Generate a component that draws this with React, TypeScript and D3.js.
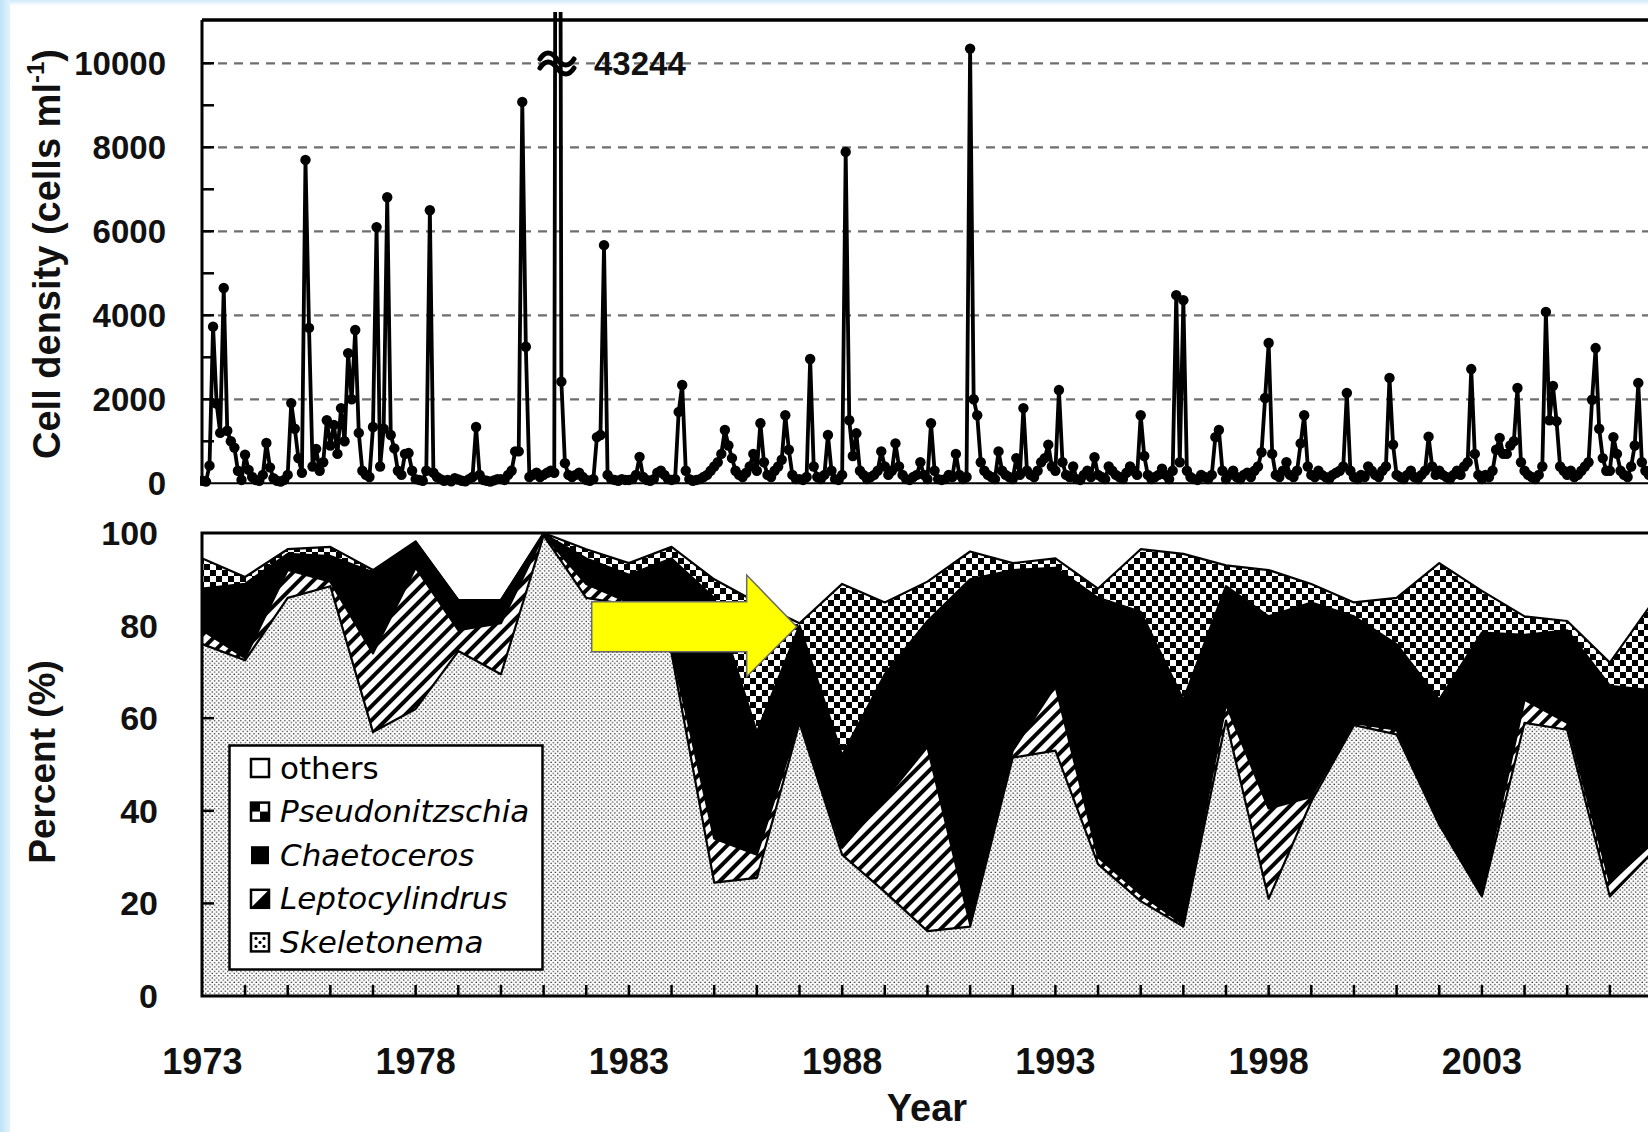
import * as d3 from "d3";
import React from "react";

// ---- data ----
// monthly cell density (cells/ml), Jan 1973 .. Dec 2006, one row per year
const cellDensity = [
	60, 40, 420, 3730, 1900, 1200, 4650, 1250, 1000, 850, 300, 80, // 1973
	680, 320, 150, 80, 60, 200, 960, 380, 120, 60, 40, 80, // 1974
	200, 1910, 1300, 600, 250, 7700, 3700, 400, 820, 300, 500, 1500, // 1975
	900, 1390, 700, 1790, 1000, 3100, 2000, 3650, 1200, 300, 200, 150, // 1976
	1340, 6100, 400, 1300, 6810, 1150, 830, 300, 200, 700, 720, 300, // 1977
	100, 80, 60, 300, 6500, 250, 150, 100, 60, 80, 50, 120, // 1978
	90, 60, 50, 100, 150, 1340, 200, 80, 60, 40, 70, 100, // 1979
	100, 80, 200, 300, 760, 760, 9080, 3250, 150, 200, 250, 150, // 1980
	200, 250, 300, 250, 43244, 2420, 480, 200, 150, 200, 250, 150, // 1981
	80, 60, 100, 1100, 1150, 5670, 200, 100, 80, 60, 100, 80, // 1982
	80, 100, 200, 630, 150, 80, 60, 100, 250, 300, 200, 100, // 1983
	80, 100, 1700, 2340, 300, 100, 60, 80, 100, 150, 200, 300, // 1984
	400, 500, 700, 1270, 900, 600, 300, 200, 150, 250, 400, 700, // 1985
	300, 1430, 500, 200, 150, 300, 400, 560, 1620, 800, 200, 100, // 1986
	100, 80, 150, 2960, 400, 150, 100, 200, 1150, 300, 100, 80, // 1987
	200, 7890, 1500, 650, 1190, 300, 200, 100, 150, 200, 300, 760, // 1988
	400, 200, 300, 950, 400, 200, 100, 80, 150, 200, 500, 200, // 1989
	100, 1430, 300, 100, 80, 100, 200, 150, 700, 200, 100, 150, // 1990
	10350, 2000, 1620, 500, 300, 200, 150, 100, 760, 300, 200, 150, // 1991
	100, 600, 200, 1790, 300, 200, 150, 300, 500, 600, 920, 400, // 1992
	300, 2220, 500, 200, 150, 400, 100, 80, 200, 300, 150, 620, // 1993
	200, 150, 100, 400, 300, 200, 150, 100, 250, 400, 300, 200, // 1994
	1620, 650, 200, 100, 150, 200, 350, 200, 100, 300, 4480, 500, // 1995
	4360, 300, 150, 100, 80, 200, 150, 100, 200, 1100, 1270, 300, // 1996
	100, 200, 300, 150, 100, 200, 250, 150, 300, 400, 740, 2030, // 1997
	3340, 700, 200, 150, 300, 500, 200, 150, 300, 950, 1620, 400, // 1998
	200, 150, 300, 200, 150, 100, 200, 250, 300, 400, 2150, 300, // 1999
	150, 100, 200, 150, 400, 300, 200, 150, 300, 400, 2510, 920, // 2000
	200, 150, 100, 200, 300, 150, 100, 200, 300, 1110, 400, 200, // 2001
	300, 200, 150, 100, 200, 300, 200, 400, 500, 2720, 700, 200, // 2002
	100, 200, 150, 300, 800, 1080, 700, 700, 900, 1000, 2270, 500, // 2003
	300, 200, 150, 100, 200, 400, 4080, 1500, 2320, 1480, 400, 300, // 2004
	200, 300, 150, 200, 300, 400, 500, 1990, 3220, 1300, 600, 300, // 2005
	300, 1100, 700, 300, 200, 150, 400, 900, 2390, 500, 300, 200, // 2006
];
const firstYear = 1973;

// annual composition (%)
const years = [
	1973, 1974, 1975, 1976, 1977, 1978, 1979, 1980, 1981, 1982, 1983, 1984, 1985, 1986, 1987, 1988, 1989,
	1990, 1991, 1992, 1993, 1994, 1995, 1996, 1997, 1998, 1999, 2000, 2001, 2002, 2003, 2004, 2005, 2006, 2007,
];
const skeletonema = [
	76, 72.5, 86, 88.5, 57, 62, 74.5, 69.5, 99.5, 86, 84.5, 74, 24.5, 25.5, 59, 30.5, 22.5, 14, 15, 51.5, 53,
	28.5, 20.5, 15, 59.5, 21, 42, 58.5, 56.5, 37, 21.5, 59, 57.5, 21.5, 31,
];
const leptocylindrus = [
	3, 0.5, 6, 1, 17, 30.5, 4.5, 11, 0.1, 3, 0.5, 1, 9.5, 5, 0.5, 1.5, 20, 39.8, 0.5, 1.5, 14, 1.5, 1.5, 0.5,
	3.5, 19.5, 1, 0.5, 1, 0.5, 0.5, 5, 1.5, 3, 2,
];
const chaetoceros = [
	9, 16, 3.5, 5.5, 17.5, 5.5, 6.5, 5, 0.2, 5.5, 6, 19.5, 52, 26.5, 20.5, 20, 27, 27.2, 74.5, 39, 25.5, 56,
	61, 48.5, 25.5, 41.5, 42, 23, 18.5, 26.5, 56.5, 14, 20, 42.5, 33,
];
const pseudonitzschia = [
	6.5, 1.5, 1, 2, 0.5, 0.2, 0, 0, 0.2, 2, 2.5, 2.5, 4, 28, 0.5, 37, 15.5, 8.5, 6, 1.5, 2, 2, 13.5, 31.5,
	4.5, 10, 4, 3, 10, 29.5, 9, 4, 2, 5, 19,
];

const densityTicks = [0, 2000, 4000, 6000, 8000, 10000];
const percentTicks = [0, 20, 40, 60, 80, 100];
const yearLabels = [1973, 1978, 1983, 1988, 1993, 1998, 2003];

const legendItems = [
	{ key: "others", label: "others", italic: false },
	{ key: "pseudonitzschia", label: "Pseudonitzschia", italic: true },
	{ key: "chaetoceros", label: "Chaetoceros", italic: true },
	{ key: "leptocylindrus", label: "Leptocylindrus", italic: true },
	{ key: "skeletonema", label: "Skeletonema", italic: true },
];

const W = 1648;
const H = 1132;
const BOLD = "'Liberation Sans', Arial, sans-serif";
const LEG = "'DejaVu Sans', Verdana, sans-serif";

const fills: Record<string, string> = {
	skeletonema: "url(#dots)",
	leptocylindrus: "url(#hatch)",
	chaetoceros: "#000",
	pseudonitzschia: "url(#checker)",
};

const App = (): JSX.Element => {
	// shared time axis
	const x = d3.scaleLinear().domain([1973, 2008]).range([202.4, 202.4 + 35 * 42.65]);
	const yD = d3.scaleLinear().domain([0, 10000]).range([483.3, 63.3]);
	const yP = d3.scaleLinear().domain([0, 100]).range([996, 533]);

	const monthly = cellDensity.map((v, i) => ({ t: firstYear + i / 12, v }));
	const densLine = d3
		.line<{ t: number; v: number }>()
		.x((d) => x(d.t))
		.y((d) => yD(d.v));

	const rows = years.map((yr, i) => ({
		year: yr,
		skeletonema: skeletonema[i],
		leptocylindrus: leptocylindrus[i],
		chaetoceros: chaetoceros[i],
		pseudonitzschia: pseudonitzschia[i],
	}));
	const keys = ["skeletonema", "leptocylindrus", "chaetoceros", "pseudonitzschia"];
	const stacked = d3.stack<any>().keys(keys)(rows);
	const area = d3
		.area<any>()
		.x((d) => x(d.data.year))
		.y0((d) => yP(d[0]))
		.y1((d) => yP(d[1]));
	const topLine = d3
		.line<any>()
		.x((d) => x(d.data.year))
		.y((d) => yP(d[1]));

	const minorD = d3.range(1000, 11000, 1000);
	const yearTicks = years.slice(1);

	return (
		<div style={{ position: "fixed", left: 0, top: 0, width: W, height: H, overflow: "hidden", background: "#fff" }}>
			<svg width={W} height={H} style={{ display: "block" }}>
				<defs>
					<linearGradient id="edgeL" x1="0" x2="1" y1="0" y2="0">
						<stop offset="0" stopColor="#bfe2f8" />
						<stop offset="1" stopColor="#e4f3fc" />
					</linearGradient>
					<linearGradient id="edgeT" x1="0" x2="0" y1="0" y2="1">
						<stop offset="0" stopColor="#cfe9fa" />
						<stop offset="1" stopColor="#ffffff" />
					</linearGradient>
					<pattern id="dots" width="4.4" height="4.4" patternUnits="userSpaceOnUse">
						<rect width="4.4" height="4.4" fill="#fff" />
						<circle cx="1.1" cy="1.1" r="0.75" fill="#222" />
						<circle cx="3.3" cy="3.3" r="0.75" fill="#222" />
					</pattern>
					<pattern id="hatch" width="10" height="10" patternUnits="userSpaceOnUse" patternTransform="rotate(45)">
						<rect width="10" height="10" fill="#fff" />
						<rect width="4" height="10" fill="#000" />
					</pattern>
					<pattern id="checker" width="12" height="12" patternUnits="userSpaceOnUse">
						<rect width="12" height="12" fill="#fff" />
						<rect width="6" height="6" fill="#000" />
						<rect x="6" y="6" width="6" height="6" fill="#000" />
					</pattern>
					<clipPath id="clipTop">
						<rect x={200} y={12} width={W} height={480} />
					</clipPath>
					<clipPath id="clipBottom">
						<rect x={202} y={533} width={W} height={463} />
					</clipPath>
				</defs>

				{/* light blue frame */}
				<rect x={0} y={0} width={W} height={6} fill="url(#edgeT)" />
				<rect x={0} y={0} width={10} height={H} fill="url(#edgeL)" />

				{/* ---------- top panel: cell density ---------- */}
				{densityTicks.slice(1).map((t) => (
					<line
						key={t}
						x1={202}
						x2={W}
						y1={yD(t)}
						y2={yD(t)}
						stroke="#6e6e6e"
						strokeWidth={2.2}
						strokeDasharray="9 7"
					/>
				))}
				{minorD.map((t) => (
					<line key={t} x1={202} x2={214} y1={yD(t)} y2={yD(t)} stroke="#000" strokeWidth={2.5} />
				))}
				<g clipPath="url(#clipTop)">
					<path d={densLine(monthly) ?? ""} fill="none" stroke="#000" strokeWidth={3.8} strokeLinejoin="round" />
					{monthly.map((d, i) => (
						<circle key={i} cx={x(d.t)} cy={yD(d.v)} r={5.2} fill="#000" />
					))}
				</g>
				<line x1={202} x2={W} y1={20} y2={20} stroke="#000" strokeWidth={3.5} />
				<line x1={202} x2={202} y1={20} y2={484} stroke="#000" strokeWidth={3} />
				<line x1={202} x2={W} y1={yD(0)} y2={yD(0)} stroke="#000" strokeWidth={2} />

				{/* axis break mark and off-scale value */}
				<g fill="none" stroke="#000" strokeWidth={5} strokeLinecap="round">
					<path d="M540,59 c5,-8 11,-8 17,0 s12,8 17,0" />
					<path d="M540,68 c5,-8 11,-8 17,0 s12,8 17,0" />
				</g>
				<text x={594} y={yD(10000) + 11.5} fontFamily={BOLD} fontWeight="bold" fontSize={33} fill="#111">
					43244
				</text>

				{densityTicks.map((t) => (
					<text
						key={t}
						x={166}
						y={yD(t) + 11.5}
						textAnchor="end"
						fontFamily={BOLD}
						fontWeight="bold"
						fontSize={33}
						fill="#111"
					>
						{t}
					</text>
				))}
				<text
					transform="translate(60,254) rotate(-90)"
					textAnchor="middle"
					fontFamily={BOLD}
					fontWeight="bold"
					fontSize={38}
					fill="#111"
				>
					Cell density (cells ml
					<tspan fontSize={24} dy={-16}>
						-1
					</tspan>
					<tspan dy={16}>)</tspan>
				</text>

				{/* ---------- bottom panel: composition ---------- */}
				<g clipPath="url(#clipBottom)">
					{stacked.map((s) => (
						<path key={s.key} d={area(s) ?? ""} fill={fills[s.key]} />
					))}
					{stacked.map((s) => (
						<path
							key={s.key + "-l"}
							d={topLine(s) ?? ""}
							fill="none"
							stroke="#000"
							strokeWidth={2.2}
							strokeLinejoin="round"
						/>
					))}
				</g>
				{percentTicks.slice(1, -1).map((t) => (
					<line key={t} x1={202} x2={214} y1={yP(t)} y2={yP(t)} stroke="#000" strokeWidth={2.5} />
				))}
				{yearTicks.map((yr) => (
					<line key={yr} x1={x(yr)} x2={x(yr)} y1={996} y2={985} stroke="#000" strokeWidth={2.5} />
				))}
				<rect x={202} y={533} width={W} height={463} fill="none" stroke="#000" strokeWidth={3} />

				{percentTicks.map((t) => (
					<text
						key={t}
						x={158}
						y={yP(t) + 12}
						textAnchor="end"
						fontFamily={BOLD}
						fontWeight="bold"
						fontSize={34}
						fill="#111"
					>
						{t}
					</text>
				))}
				{yearLabels.map((yr) => (
					<text
						key={yr}
						x={x(yr)}
						y={1074}
						textAnchor="middle"
						fontFamily={BOLD}
						fontWeight="bold"
						fontSize={36}
						fill="#111"
					>
						{yr}
					</text>
				))}
				<text x={927} y={1121} textAnchor="middle" fontFamily={BOLD} fontWeight="bold" fontSize={38} fill="#111">
					Year
				</text>
				<text
					transform="translate(55,762) rotate(-90)"
					textAnchor="middle"
					fontFamily={BOLD}
					fontWeight="bold"
					fontSize={37}
					fill="#111"
				>
					Percent (%)
				</text>

				{/* legend */}
				<g>
					<rect x={229.5} y={745.5} width={313} height={224} fill="#fff" stroke="#000" strokeWidth={2.5} />
					{legendItems.map((it, i) => {
						const cy = 768 + i * 43.6;
						const bx = 251;
						const by = cy - 9;
						return (
							<g key={it.key}>
								{it.key === "others" && (
									<rect x={bx} y={by} width={18} height={18} fill="#fff" stroke="#000" strokeWidth={2.5} />
								)}
								{it.key === "pseudonitzschia" && (
									<g>
										<rect x={bx} y={by} width={18} height={18} fill="#fff" stroke="#000" strokeWidth={2.5} />
										<rect x={bx} y={by} width={9} height={9} fill="#000" />
										<rect x={bx + 9} y={by + 9} width={9} height={9} fill="#000" />
									</g>
								)}
								{it.key === "chaetoceros" && <rect x={bx} y={by} width={18} height={18} fill="#000" />}
								{it.key === "leptocylindrus" && (
									<g>
										<rect x={bx} y={by} width={18} height={18} fill="#fff" stroke="#000" strokeWidth={2.5} />
										<path d={`M${bx},${by + 18} L${bx + 18},${by} L${bx + 18},${by + 18} Z`} fill="#000" />
									</g>
								)}
								{it.key === "skeletonema" && (
									<g>
										<rect x={bx} y={by} width={18} height={18} fill="#fff" stroke="#000" strokeWidth={2.5} />
										<circle cx={bx + 5} cy={by + 5} r={1.6} fill="#000" />
										<circle cx={bx + 13} cy={by + 5} r={1.6} fill="#000" />
										<circle cx={bx + 9} cy={by + 9} r={1.6} fill="#000" />
										<circle cx={bx + 5} cy={by + 13} r={1.6} fill="#000" />
										<circle cx={bx + 13} cy={by + 13} r={1.6} fill="#000" />
									</g>
								)}
								<text
									x={280}
									y={cy + 10.5}
									fontFamily={LEG}
									fontStyle={it.italic ? "italic" : "normal"}
									fontSize={31}
									fill="#000"
								>
									{it.label}
								</text>
							</g>
						);
					})}
				</g>

				{/* yellow arrow */}
				<polygon
					points="591.7,601.7 746.7,601.7 746.7,575 796.7,626.7 746.7,676.7 746.7,651.7 591.7,651.7"
					fill="#ffff00"
					stroke="#6b6b6b"
					strokeWidth={1.5}
				/>
			</svg>
		</div>
	);
};

export default App;
